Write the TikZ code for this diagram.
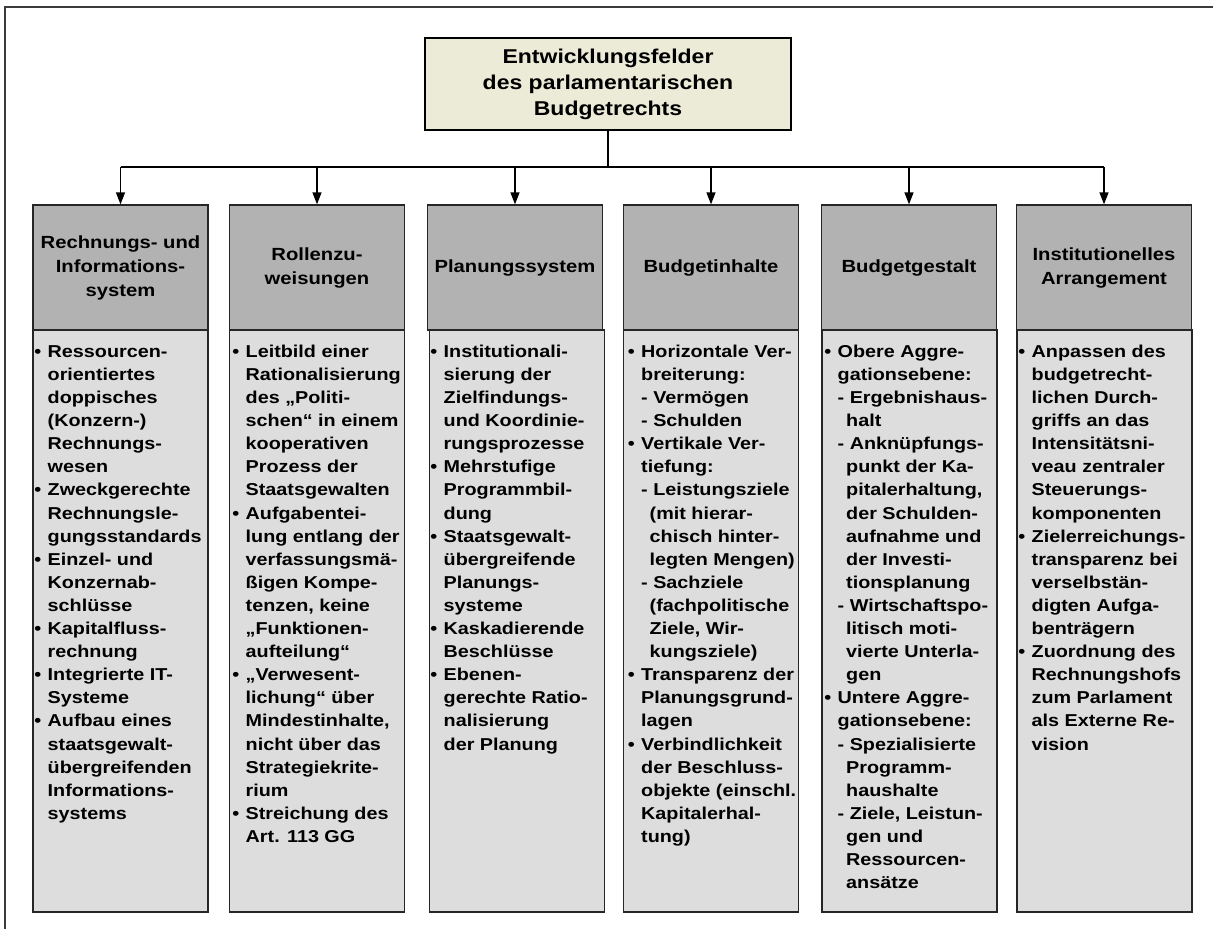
\documentclass[tikz,border=0pt]{standalone}
\usepackage{fontspec}
\setmainfont{Liberation Sans}[FakeStretch=1.15]
\usetikzlibrary{arrows.meta}
\definecolor{titlefill}{RGB}{236,235,216}
\definecolor{headfill}{RGB}{178,178,178}
\definecolor{bodyfill}{RGB}{221,221,221}
\definecolor{framecol}{RGB}{60,60,60}
\newcommand\bu{\leavevmode\llap{\textbullet\hspace{6.5pt}}}
\newcommand\subc{\hspace*{8.5pt}}
\newcommand\coltext[1]{\parbox[t]{172pt}{\raggedright\fontsize{17.2}{23.1}\selectfont\bfseries #1}}
\tikzset{
  titlebox/.style={draw=black, line width=1.3pt, fill=titlefill, minimum width=366pt, minimum height=92pt, align=center, inner sep=0pt, font=\fontsize{20}{26}\selectfont\bfseries},
  headbox/.style={draw=black!85, line width=1.3pt, fill=headfill, minimum width=175pt, minimum height=125pt, align=center, inner sep=0pt, font=\fontsize{17.6}{24}\selectfont\bfseries},
  bodybox/.style={draw=black!85, line width=1.3pt, fill=bodyfill, minimum width=175pt, minimum height=582pt, inner sep=0pt},
  coltxt/.style={anchor=base west, inner sep=0pt, align=left},
  trunk/.style={line width=2.2pt},
  arr/.style={line width=1.3pt, -{Triangle[length=12pt,width=9pt]}},
}
\begin{document}
\begin{tikzpicture}[x=1pt,y=-1pt]
\useasboundingbox (0,0) rectangle (1213,929);
\fill[white] (0,0) rectangle (1213,929);
\draw[framecol, line width=1.5pt] (1213,7) -- (5,7) -- (5,929);

\node[titlebox] (title) at (608,84) {Entwicklungsfelder\\des parlamentarischen\\Budgetrechts};

\node[headbox] (h1) at (120.5,267.5) {Rechnungs- und\\Informations-\\system};
\node[headbox] (h2) at (317,267.5) {Rollenzu-\\weisungen};
\node[headbox] (h3) at (515,267.5) {Planungssystem};
\node[headbox] (h4) at (711,267.5) {Budgetinhalte};
\node[headbox] (h5) at (909,267.5) {Budgetgestalt};
\node[headbox] (h6) at (1104,267.5) {Institutionelles\\Arrangement};

\node[bodybox] (b1) at (120.5,621) {};
\node[bodybox] (b2) at (317,621) {};
\node[bodybox] (b3) at (517,621) {};
\node[bodybox] (b4) at (711,621) {};
\node[bodybox] (b5) at (909.5,621) {};
\node[bodybox] (b6) at (1104.5,621) {};

\draw[trunk] (title.south) -- (title.south |- 0,167) coordinate (j);
\draw[trunk] (h1.north |- j) -- (h6.north |- j);
\foreach \h in {h1,h2,h3,h4,h5,h6}
  \draw[arr] (\h.north |- j) -- (\h.north);

\node[coltxt] (t1) at (47.5,357.3) {\coltext{%
\bu Ressourcen-\\
orientiertes\\
doppisches\\
(Konzern-)\\
Rechnungs-\\
wesen\\
\bu Zweckgerechte\\
Rechnungsle-\\
gungsstandards\\
\bu Einzel- und\\
Konzernab-\\
schlüsse\\
\bu Kapitalfluss-\\
rechnung\\
\bu Integrierte IT-\\
Systeme\\
\bu Aufbau eines\\
staatsgewalt-\\
übergreifenden\\
Informations-\\
systems}};

\node[coltxt] (t2) at (245.5,357.3) {\coltext{%
\bu Leitbild einer\\
Rationalisierung\\
des „Politi-\\
schen“ in einem\\
kooperativen\\
Prozess der\\
Staatsgewalten\\
\bu Aufgabentei-\\
lung entlang der\\
verfassungsmä-\\
ßigen Kompe-\\
tenzen, keine\\
„Funktionen-\\
aufteilung“\\
\bu „Verwesent-\\
lichung“ über\\
Mindestinhalte,\\
nicht über das\\
Strategiekrite-\\
rium\\
\bu Streichung des\\
Art. 113 GG}};

\node[coltxt] (t3) at (443.5,357.3) {\coltext{%
\bu Institutionali-\\
sierung der\\
Zielfindungs-\\
und Koordinie-\\
rungsprozesse\\
\bu Mehrstufige\\
Programmbil-\\
dung\\
\bu Staatsgewalt-\\
übergreifende\\
Planungs-\\
systeme\\
\bu Kaskadierende\\
Beschlüsse\\
\bu Ebenen-\\
gerechte Ratio-\\
nalisierung\\
der Planung}};

\node[coltxt] (t4) at (641,357.3) {\coltext{%
\bu Horizontale Ver-\\
breiterung:\\
- Vermögen\\
- Schulden\\
\bu Vertikale Ver-\\
tiefung:\\
- Leistungsziele\\
\subc(mit hierar-\\
\subc chisch hinter-\\
\subc legten Mengen)\\
- Sachziele\\
\subc(fachpolitische\\
\subc Ziele, Wir-\\
\subc kungsziele)\\
\bu Transparenz der\\
Planungsgrund-\\
lagen\\
\bu Verbindlichkeit\\
der Beschluss-\\
objekte (einschl.\\
Kapitalerhal-\\
tung)}};

\node[coltxt] (t5) at (837.5,357.3) {\coltext{%
\bu Obere Aggre-\\
gationsebene:\\
- Ergebnishaus-\\
\subc halt\\
- Anknüpfungs-\\
\subc punkt der Ka-\\
\subc pitalerhaltung,\\
\subc der Schulden-\\
\subc aufnahme und\\
\subc der Investi-\\
\subc tionsplanung\\
- Wirtschaftspo-\\
\subc litisch moti-\\
\subc vierte Unterla-\\
\subc gen\\
\bu Untere Aggre-\\
gationsebene:\\
- Spezialisierte\\
\subc Programm-\\
\subc haushalte\\
- Ziele, Leistun-\\
\subc gen und\\
\subc Ressourcen-\\
\subc ansätze}};

\node[coltxt] (t6) at (1031.5,357.3) {\coltext{%
\bu Anpassen des\\
budgetrecht-\\
lichen Durch-\\
griffs an das\\
Intensitätsni-\\
veau zentraler\\
Steuerungs-\\
komponenten\\
\bu Zielerreichungs-\\
transparenz bei\\
verselbstän-\\
digten Aufga-\\
benträgern\\
\bu Zuordnung des\\
Rechnungshofs\\
zum Parlament\\
als Externe Re-\\
vision}};
\end{tikzpicture}
\end{document}
